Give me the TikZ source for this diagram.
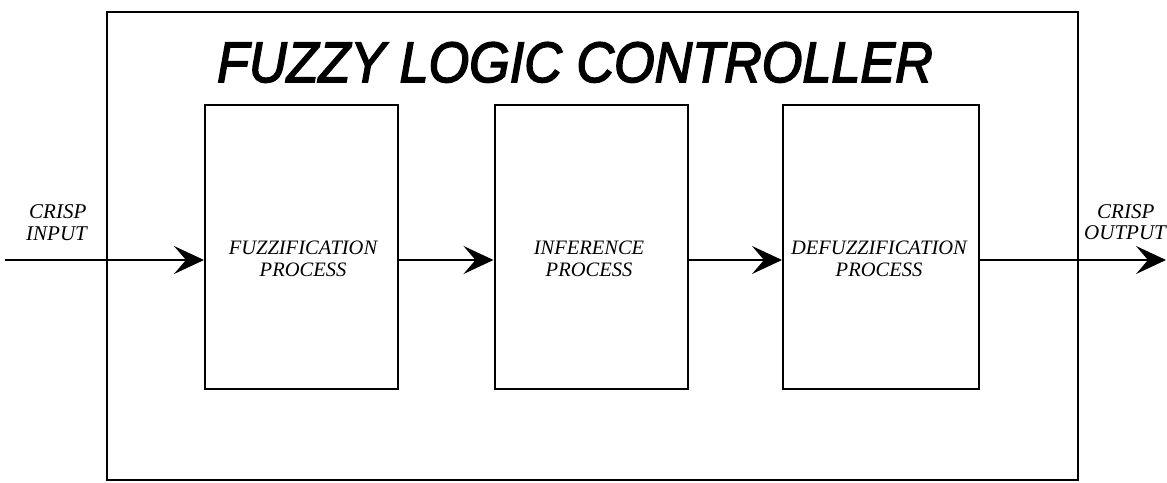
\documentclass[tikz,border=0pt]{standalone}
\usepackage{fontspec}
\setmainfont{Liberation Serif}
\newfontfamily\titlefont{Liberation Sans}
\usetikzlibrary{arrows.meta}
\newcommand{\heavytext}[1]{\special{pdf:literal direct 1.6 w 2 Tr}#1\special{pdf:literal direct 0 Tr}}
\begin{document}
\begin{tikzpicture}[x=1pt,y=1pt,
  frame/.style={draw=black,line width=2pt},
  procbox/.style={draw=black,line width=2pt,rectangle,minimum width=193pt,minimum height=284pt,inner sep=0pt},
  boxtext/.style={align=center,font=\fontsize{20.5}{22}\selectfont\itshape,inner sep=0pt},
  sidetext/.style={align=left,font=\fontsize{21}{22}\selectfont\itshape,inner sep=0pt},
  flow/.style={line width=1.3pt,-{Stealth[length=30pt,width=28pt,inset=12pt]}},
  titlestyle/.style={font=\titlefont\itshape\fontsize{57}{60}\selectfont,inner sep=0pt}]
\useasboundingbox (0,0) rectangle (1167,-482);
\fill[white] (0,0) rectangle (1167,-482);
% outer frame
\node[frame,rectangle,minimum width=971pt,minimum height=468pt,inner sep=0pt] (flc) at (592.5,-246) {};
\node[titlestyle,anchor=base] (title) at (575,-82) {\scalebox{0.915}[1]{\heavytext{FUZZY LOGIC CONTROLLER}}};
% process boxes
\node[procbox] (fuzz) at (301.5,-247) {};
\node[procbox] (inf) at (591,-247) {};
\node[procbox,minimum width=196pt] (defuzz) at (881,-247) {};
\node[boxtext] (tfuzz) at (303,-259) {FUZZIFICATION\\PROCESS};
\node[boxtext] (tinf) at (589,-259) {INFERENCE\\PROCESS};
\node[boxtext] (tdefuzz) at (879,-259) {DEFUZZIFICATION\\PROCESS};
% side labels
\node[sidetext,anchor=base west] (cin) at (29,-218) {CRISP};
\node[sidetext,anchor=base west] (cin2) at (26,-240) {INPUT};
\node[sidetext,anchor=base west] (cout) at (1097,-218) {CRISP};
\node[sidetext,anchor=base west] (cout2) at (1084,-239) {OUTPUT};
% connectors
\coordinate (start) at (5,-260);
\coordinate (finish) at (1166,-260);
\draw[flow] (start) -- (fuzz.west |- start);
\draw[flow] (fuzz.east |- start) -- (inf.west |- start);
\draw[flow] (inf.east |- start) -- (defuzz.west |- start);
\draw[flow] (defuzz.east |- start) -- (finish);
\end{tikzpicture}
\end{document}
